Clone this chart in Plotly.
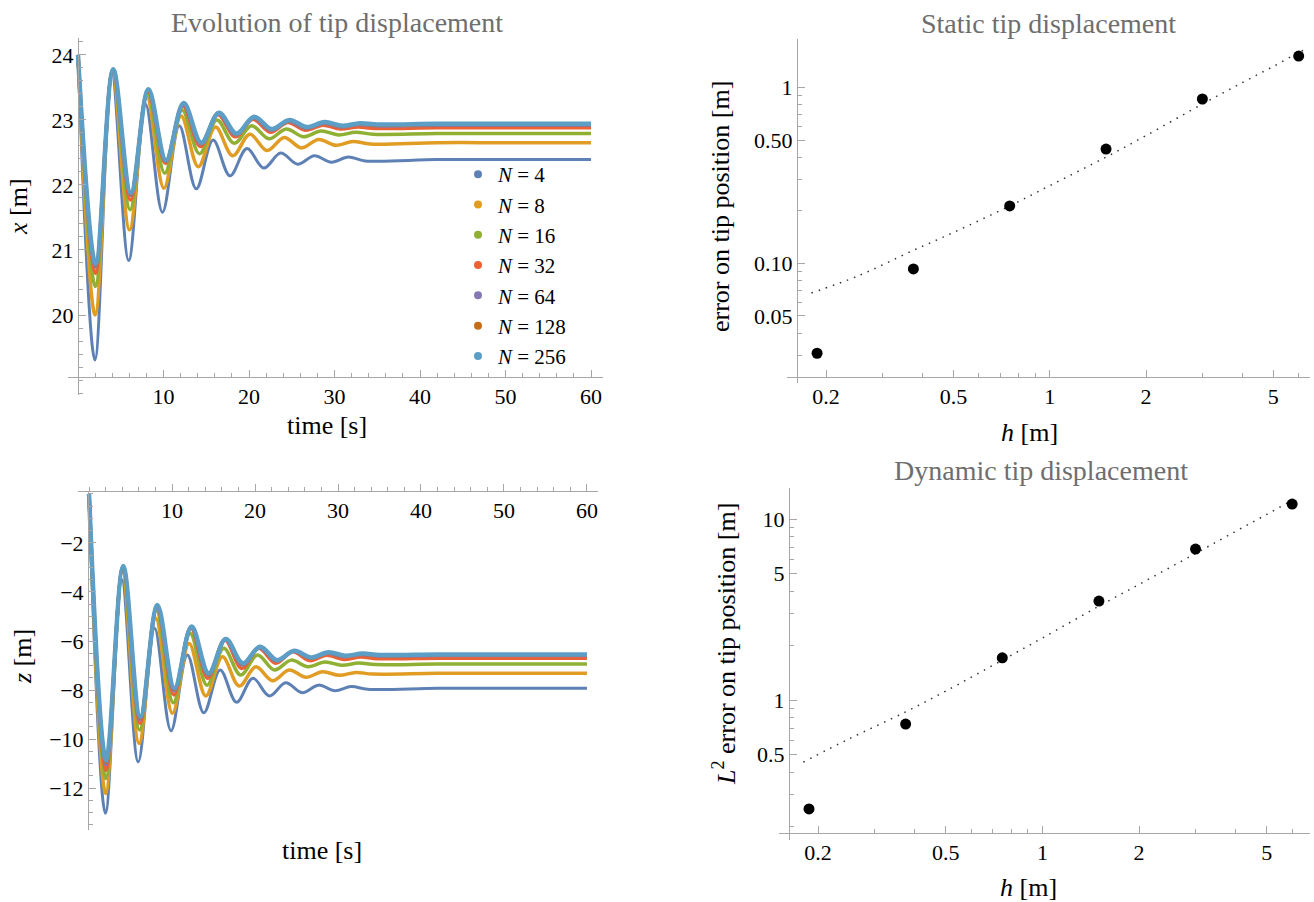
import plotly.graph_objects as go

W, H = 1314, 902

# ---------------- data: tip displacement time histories (extrema) ----------------
labels_N = ["4", "8", "16", "32", "64", "128", "256"]
colors = ["#5E81B5", "#E19C24", "#8FB032", "#EB6235", "#8778B3", "#C56E1A", "#5D9EC7"]
widths = [3, 3.5, 3.5, 3.5, 3.5, 3.5, 4.5]

t_N4 = [0, 1.98, 3.95, 5.93, 7.9, 9.88, 11.85, 13.83, 15.8, 17.78, 19.75, 21.73, 23.7, 25.68, 27.65, 29.63, 31.6, 33.58, 42, 50, 60]
t_N8 = [0, 2.01, 4.02, 6.03, 8.04, 10.05, 12.06, 14.07, 16.08, 18.09, 20.1, 22.11, 24.12, 26.13, 28.14, 30.15, 32.16, 34.17, 42, 50, 60]
t_N16 = [0, 2.03, 4.06, 6.09, 8.12, 10.15, 12.18, 14.21, 16.24, 18.27, 20.3, 22.33, 24.36, 26.39, 28.42, 30.45, 32.48, 34.51, 42, 50, 60]
t_N32 = [0, 2.05, 4.09, 6.14, 8.18, 10.23, 12.27, 14.32, 16.36, 18.41, 20.45, 22.5, 24.54, 26.59, 28.63, 30.68, 32.72, 34.77, 42, 50, 60]
t_N64 = [0, 2.05, 4.1, 6.15, 8.2, 10.25, 12.3, 14.35, 16.4, 18.45, 20.5, 22.55, 24.6, 26.65, 28.7, 30.75, 32.8, 34.85, 42, 50, 60]
t_N128 = [0, 2.06, 4.11, 6.17, 8.22, 10.28, 12.33, 14.39, 16.44, 18.5, 20.55, 22.61, 24.66, 26.72, 28.77, 30.83, 32.88, 34.94, 42, 50, 60]
t_N256 = [0, 2.06, 4.12, 6.18, 8.24, 10.3, 12.36, 14.42, 16.48, 18.54, 20.6, 22.66, 24.72, 26.78, 28.84, 30.9, 32.96, 35.02, 42, 50, 60]

x_N4 = [24, 19.31, 23.72, 20.84, 23.24, 21.58, 22.91, 21.94, 22.69, 22.14, 22.56, 22.26, 22.49, 22.32, 22.45, 22.35, 22.43, 22.37, 22.39, 22.39, 22.39]
x_N8 = [24, 20.0, 23.74, 21.31, 23.36, 21.95, 23.06, 22.28, 22.89, 22.45, 22.78, 22.53, 22.73, 22.57, 22.70, 22.61, 22.67, 22.63, 22.65, 22.65, 22.65]
x_N16 = [24, 20.44, 23.76, 21.62, 23.41, 22.18, 23.15, 22.48, 23.0, 22.64, 22.91, 22.71, 22.86, 22.74, 22.83, 22.77, 22.81, 22.78, 22.79, 22.79, 22.79]
x_N32 = [24, 20.64, 23.77, 21.77, 23.44, 22.33, 23.21, 22.59, 23.08, 22.74, 23.01, 22.81, 22.96, 22.84, 22.92, 22.86, 22.89, 22.87, 22.88, 22.88, 22.88]
x_N64 = [24, 20.74, 23.78, 21.84, 23.46, 22.36, 23.24, 22.63, 23.1, 22.77, 23.03, 22.84, 22.98, 22.87, 22.95, 22.89, 22.93, 22.91, 22.92, 22.92, 22.92]
x_N128 = [24, 20.77, 23.78, 21.86, 23.47, 22.37, 23.25, 22.64, 23.11, 22.78, 23.04, 22.85, 22.99, 22.88, 22.96, 22.9, 22.94, 22.92, 22.93, 22.93, 22.93]
x_N256 = [24, 20.79, 23.78, 21.88, 23.47, 22.38, 23.26, 22.65, 23.11, 22.79, 23.05, 22.86, 23.0, 22.89, 22.97, 22.91, 22.95, 22.93, 22.94, 22.94, 22.94]

z_N4 = [0, -13.03, -3.5, -10.93, -5.48, -9.66, -6.57, -8.93, -7.18, -8.5, -7.52, -8.24, -7.7, -8.11, -7.8, -8.03, -7.86, -7.97, -7.93, -7.93, -7.93]
z_N8 = [0, -12.22, -3.17, -10.18, -5.07, -8.95, -6.1, -8.24, -6.64, -7.84, -7.05, -7.62, -7.18, -7.48, -7.25, -7.4, -7.28, -7.35, -7.32, -7.32, -7.32]
z_N16 = [0, -11.61, -3.03, -9.63, -4.76, -8.52, -5.69, -7.8, -6.3, -7.39, -6.57, -7.18, -6.78, -7.05, -6.86, -6.99, -6.9, -6.96, -6.94, -6.94, -6.94]
z_N32 = [0, -11.27, -2.99, -9.36, -4.6, -8.2, -5.48, -7.52, -5.96, -7.12, -6.3, -6.91, -6.44, -6.8, -6.58, -6.75, -6.65, -6.72, -6.7, -6.7, -6.7]
z_N64 = [0, -11.05, -2.96, -9.2, -4.56, -8.03, -5.44, -7.4, -5.93, -6.98, -6.26, -6.82, -6.42, -6.7, -6.5, -6.64, -6.55, -6.61, -6.59, -6.59, -6.59]
z_N128 = [0, -10.95, -2.95, -9.14, -4.54, -7.98, -5.42, -7.36, -5.92, -6.94, -6.24, -6.8, -6.41, -6.69, -6.48, -6.62, -6.53, -6.59, -6.56, -6.56, -6.56]
z_N256 = [0, -10.86, -2.94, -9.09, -4.53, -7.93, -5.41, -7.32, -5.92, -6.91, -6.23, -6.78, -6.4, -6.67, -6.46, -6.6, -6.51, -6.57, -6.55, -6.55, -6.55]

t_series = [t_N4, t_N8, t_N16, t_N32, t_N64, t_N128, t_N256]
x_series = [x_N4, x_N8, x_N16, x_N32, x_N64, x_N128, x_N256]
z_series = [z_N4, z_N8, z_N16, z_N32, z_N64, z_N128, z_N256]

# ---------------- data: convergence ----------------
h_vals = [0.1875, 0.375, 0.75, 1.5, 3.0, 6.0]
static_err = [0.0307, 0.0925, 0.211, 0.444, 0.855, 1.50]
dynamic_err = [0.25, 0.736, 1.71, 3.52, 6.82, 12.1]

h_fit = [0.18, 0.25, 0.375, 0.5, 0.75, 1.0, 1.5, 2.0, 3.0, 4.0, 5.0, 6.0, 6.3]
static_fit = [0.0676, 0.084, 0.118, 0.149, 0.211, 0.275, 0.40, 0.53, 0.80, 1.06, 1.31, 1.57, 1.64]
dynamic_fit = [0.454, 0.61, 0.86, 1.12, 1.66, 2.2, 3.3, 4.35, 6.45, 8.55, 10.6, 12.7, 13.3]

x_ticks = [10, 20, 30, 40, 50, 60]
xpos_ticks = [20, 21, 22, 23, 24]
z_ticks = [-12, -10, -8, -6, -4, -2]
h_ticks = [0.2, 0.5, 1, 2, 5]
h_minor = [0.3, 0.4, 0.6, 0.7, 0.8, 0.9, 3, 4, 6]
static_ticks = [0.05, 0.1, 0.5, 1]
static_ticktext = ["0.05", "0.10", "0.50", "1"]
static_minor = [0.03, 0.04, 0.06, 0.07, 0.08, 0.09, 0.2, 0.3, 0.4, 0.6, 0.7, 0.8, 0.9]
dyn_ticks = [0.5, 1, 5, 10]
dyn_minor = [0.2, 0.3, 0.4, 0.6, 0.7, 0.8, 0.9, 2, 3, 4, 6, 7, 8, 9]

# ---------------- figure ----------------
AX = "#a6a6a6"
FONT = "Liberation Serif"
fig = go.Figure()

for i in range(7):
    fig.add_trace(go.Scatter(x=t_series[i], y=x_series[i], mode="lines", line=dict(color=colors[i], width=widths[i], shape="spline"),
                             xaxis="x", yaxis="y", showlegend=False, hoverinfo="skip"))
for i in range(7):
    fig.add_trace(go.Scatter(x=t_series[i], y=z_series[i], mode="lines", line=dict(color=colors[i], width=widths[i], shape="spline"),
                             xaxis="x2", yaxis="y2", showlegend=False, hoverinfo="skip"))
for i in range(7):
    fig.add_trace(go.Scatter(x=[None], y=[None], mode="markers", marker=dict(color=colors[i], size=8),
                             name="<i>N</i> = " + labels_N[i], xaxis="x", yaxis="y", showlegend=True))

fig.add_trace(go.Scatter(x=h_fit, y=static_fit, mode="lines", line=dict(color="#333333", width=1.5, dash="1.5px,6px", shape="spline"),
                         xaxis="x3", yaxis="y3", showlegend=False))
fig.add_trace(go.Scatter(x=h_vals, y=static_err, mode="markers", marker=dict(color="black", size=11),
                         xaxis="x3", yaxis="y3", showlegend=False))
fig.add_trace(go.Scatter(x=h_fit, y=dynamic_fit, mode="lines", line=dict(color="#333333", width=1.5, dash="1.5px,6px", shape="spline"),
                         xaxis="x4", yaxis="y4", showlegend=False))
fig.add_trace(go.Scatter(x=h_vals, y=dynamic_err, mode="markers", marker=dict(color="black", size=11),
                         xaxis="x4", yaxis="y4", showlegend=False))


def ax(**kw):
    d = dict(showline=True, linecolor=AX, linewidth=1, ticks="inside", ticklen=7, tickcolor=AX,
             showgrid=False, zeroline=False, tickfont=dict(family=FONT, size=22, color="black"),
             tickmode="array", fixedrange=True)
    d.update(kw)
    return d


def minor_lin(step):
    return dict(dtick=step, tick0=0, ticks="inside", ticklen=4, tickcolor=AX, showgrid=False)


def minor_arr(vals):
    return dict(tickmode="array", tickvals=vals, ticks="inside", ticklen=4, tickcolor=AX, showgrid=False)


def px(xp):
    return xp / W


def py(yp):
    return 1 - yp / H


fig.update_layout(
    width=W, height=H, margin=dict(l=0, r=0, t=0, b=0),
    paper_bgcolor="white", plot_bgcolor="white",
    font=dict(family=FONT, size=22, color="black"),
    xaxis=ax(domain=[px(68), px(603)], range=[-1.17, 61.4], anchor="free", position=py(377),
             tickvals=x_ticks, minor=minor_lin(2)),
    yaxis=ax(domain=[py(395), py(38)], range=[18.77, 24.26], anchor="free", position=px(78),
             tickvals=xpos_ticks, minor=minor_lin(0.2)),
    xaxis2=ax(domain=[px(78), px(598)], range=[-1.33, 61.33], anchor="free", position=py(491),
              tickvals=x_ticks, minor=minor_lin(2)),
    yaxis2=ax(domain=[py(830), py(491)], range=[-13.71, 0.12], anchor="free", position=px(88),
              tickvals=z_ticks, ticktext=["\u2212" + str(-v) for v in z_ticks], minor=minor_lin(0.5)),
    xaxis3=ax(type="log", domain=[px(787), px(1310)], range=[-0.821, 0.8135], anchor="free", position=py(377),
              tickvals=h_ticks, ticktext=["0.2", "0.5", "1", "2", "5"], minor=minor_arr(h_minor)),
    yaxis3=ax(type="log", domain=[py(383), py(39)], range=[-1.682, 0.273], anchor="free", position=px(797),
              tickvals=static_ticks, ticktext=static_ticktext, minor=minor_arr(static_minor)),
    xaxis4=ax(type="log", domain=[px(779), px(1310)], range=[-0.8205, 0.8337], anchor="free", position=py(833),
              tickvals=h_ticks, ticktext=["0.2", "0.5", "1", "2", "5"], minor=minor_arr(h_minor)),
    yaxis4=ax(type="log", domain=[py(840), py(488)], range=[-0.7735, 1.1713], anchor="free", position=px(789),
              tickvals=dyn_ticks, ticktext=["0.5", "1", "5", "10"], minor=minor_arr(dyn_minor)),
    legend=dict(x=px(458), y=py(154), xanchor="left", yanchor="top", bgcolor="rgba(0,0,0,0)",
                font=dict(family=FONT, size=21, color="black"), itemwidth=30, tracegroupgap=0),
)

TITLE_C = "#6e6e6e"
annots = [
    ("Evolution of tip displacement", 337, 22, 0, TITLE_C, 28),
    ("time [s]", 327, 425, 0, "black", 26),
    ("<i>x</i> [m]", 18, 207, -90, "black", 26),
    ("time [s]", 322, 850, 0, "black", 26),
    ("<i>z</i> [m]", 22, 657, -90, "black", 26),
    ("Static tip displacement", 1048, 23, 0, TITLE_C, 28),
    ("<i>h</i> [m]", 1029, 432, 0, "black", 26),
    ("error on tip position [m]", 720, 207, -90, "black", 26),
    ("Dynamic tip displacement", 1041, 470, 0, TITLE_C, 28),
    ("<i>h</i> [m]", 1028, 887, 0, "black", 26),
    ("<i>L</i><sup>2</sup> error on tip position [m]", 724, 644, -90, "black", 26),
]
for text, xp, yp, ang, col, sz in annots:
    fig.add_annotation(text=text, x=px(xp), y=py(yp), xref="paper", yref="paper", showarrow=False,
                       textangle=ang, xanchor="center", yanchor="middle",
                       font=dict(family=FONT, size=sz, color=col))

fig.write_html("out.html")
